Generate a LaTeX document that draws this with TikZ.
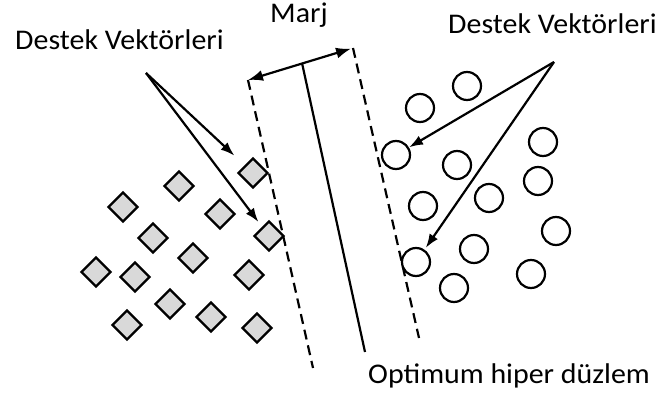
\documentclass[tikz,border=0pt]{standalone}
\usepackage{fontspec}
\setmainfont{Carlito}
\newfontfamily\lblfont[FakeStretch=1.05]{Carlito}
\usetikzlibrary{arrows.meta,shapes.geometric}
\definecolor{vecgray}{HTML}{D9D9D9}
\begin{document}
\begin{tikzpicture}[x=1pt,y=-1pt,
  vecA/.style={shape=diamond, draw, fill=vecgray, line width=2.2pt,
    minimum size=30pt, inner sep=0pt},
  vecB/.style={circle, draw, line width=2.2pt, minimum size=28pt, inner sep=0pt},
  lbl/.style={anchor=base west, inner sep=0pt,
    font=\lblfont\fontsize{28.5}{32}\selectfont},
  bound/.style={line width=2.2pt, dash pattern=on 10pt off 6pt},
  plane/.style={line width=2.2pt},
  pointer/.style={line width=2.2pt, -{Latex[length=14pt,width=10pt]}},
  span/.style={line width=2.2pt, {Latex[length=15pt,width=11pt]}-{Latex[length=15pt,width=11pt]}}
]
\useasboundingbox (0,0) rectangle (666,398);

% margin boundaries and separating hyperplane
\coordinate (b1top) at (248,80);
\coordinate (b1bot) at (313,368);
\coordinate (b2top) at (353,48);
\coordinate (b2bot) at (419,338);
\coordinate (htop) at (302,63);
\coordinate (hbot) at (365,352);
\draw[bound] (b1top) -- (b1bot);
\draw[bound] (b2top) -- (b2bot);
\draw[plane] (htop) -- (hbot);
\draw[span, shorten >=2pt] (b1top) -- (b2top);

% class A (diamonds)
\node[vecA] (d1) at (253,173) {};
\node[vecA] (d2) at (179,186) {};
\node[vecA] (d3) at (123,207) {};
\node[vecA] (d4) at (220,214) {};
\node[vecA] (d5) at (269,236) {};
\node[vecA] (d6) at (153,238) {};
\node[vecA] (d7) at (193,258) {};
\node[vecA] (d8) at (96,272) {};
\node[vecA] (d9) at (135,277) {};
\node[vecA] (d10) at (249,275) {};
\node[vecA] (d11) at (170,304) {};
\node[vecA] (d12) at (211,317) {};
\node[vecA] (d13) at (127,325) {};
\node[vecA] (d14) at (257,328) {};

% class B (circles)
\node[vecB] (c1) at (467,86) {};
\node[vecB] (c2) at (420,108) {};
\node[vecB] (c3) at (396,155) {};
\node[vecB] (c4) at (457,165) {};
\node[vecB] (c5) at (543,142) {};
\node[vecB] (c6) at (538,181) {};
\node[vecB] (c7) at (423,206) {};
\node[vecB] (c8) at (489,198) {};
\node[vecB] (c9) at (556,231) {};
\node[vecB] (c10) at (474,249) {};
\node[vecB] (c11) at (416,262) {};
\node[vecB] (c12) at (454,288) {};
\node[vecB] (c13) at (531,274) {};

% labels
\node[lbl] (lsv) at (15,50) {Destek Vektörleri};
\node[lbl] (rsv) at (448,34) {Destek Vektörleri};
\node[lbl] (marj) at (270,23) {Marj};
\node[lbl] (opt) at (368,383) {Optimum hiper düzlem};

% pointers to the support vectors
\coordinate (lsrc) at (146,73);
\coordinate (rsrc) at (554,62);
\draw[pointer, shorten >=14pt] (lsrc) -- (d1);
\draw[pointer, shorten >=6pt] (lsrc) -- (d5);
\draw[pointer] (rsrc) -- (c3);
\draw[pointer, shorten >=2pt] (rsrc) -- (c11);
\end{tikzpicture}
\end{document}
